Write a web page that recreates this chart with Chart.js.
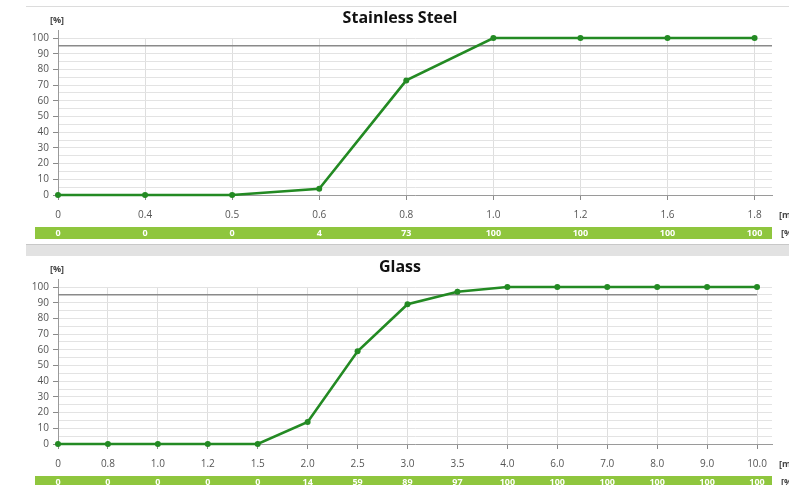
<!DOCTYPE html>
<html>
<head>
<meta charset="utf-8">
<script src="https://cdn.jsdelivr.net/npm/chart.js@4/dist/chart.umd.min.js"></script>
<style>
  html, body { margin: 0; padding: 0; background: #ffffff; }
  body { width: 789px; height: 485px; position: relative; overflow: hidden; }
  .topline { position: absolute; left: 26px; top: 6px; width: 763px; height: 1px; background: #dcdcdc; }
  .sep { position: absolute; left: 26px; top: 244px; width: 763px; height: 12px; background: #e2e2e2; border-top: 1px solid #c8c8c8; box-sizing: border-box; }
  canvas { position: absolute; left: 0; }
  #steel { top: 0; }
  #glass { top: 256px; }
</style>
</head>
<body>
<div class="topline"></div>
<div class="sep"></div>
<canvas id="steel" width="789" height="244"></canvas>
<canvas id="glass" width="789" height="229"></canvas>
<script>
// Stainless steel sieve results
const steelSizes = ['0', '0.4', '0.5', '0.6', '0.8', '1.0', '1.2', '1.6', '1.8'];
const steelPassing = [0, 0, 0, 4, 73, 100, 100, 100, 100];

// Glass sieve results
const glassSizes = ['0', '0.8', '1.0', '1.2', '1.5', '2.0', '2.5', '3.0', '3.5', '4.0', '6.0', '7.0', '8.0', '9.0', '10.0'];
const glassPassing = [0, 0, 0, 0, 0, 14, 59, 89, 97, 100, 100, 100, 100, 100, 100];

// Required passing level
const thresholdLevel = 95;

const yTicks = [0, 10, 20, 30, 40, 50, 60, 70, 80, 90, 100];

const LINE_GREEN = '#238a23';
const BAND_GREEN = '#8fc63e';
const FONT = '"Open Sans", "Noto Sans", sans-serif';

// Title, unit labels, axis stub and the value band under the x axis
const panelDecor = {
  id: 'panelDecor',
  beforeDatasetsDraw(chart) {
    const ctx = chart.ctx;
    const area = chart.chartArea;
    ctx.save();
    ctx.strokeStyle = '#9a9a9a';
    ctx.lineWidth = 1;
    ctx.beginPath();
    ctx.moveTo(area.left + 0.5, area.top - 8);
    ctx.lineTo(area.left + 0.5, area.top);
    ctx.stroke();
    ctx.restore();
  },
  afterDraw(chart, args, opts) {
    const ctx = chart.ctx;
    const xs = chart.scales.x;
    const area = chart.chartArea;
    ctx.save();
    // title
    ctx.fillStyle = '#111';
    ctx.font = 'bold 16px ' + FONT;
    ctx.textAlign = 'center';
    ctx.textBaseline = 'middle';
    ctx.fillText(opts.title, 400, area.top - 20);
    // y unit
    ctx.font = 'bold 9px ' + FONT;
    ctx.fillStyle = '#444';
    ctx.fillText('[%]', 57, area.top - 18);
    // x unit
    ctx.textAlign = 'left';
    ctx.fillText('[mm]', 779, area.bottom + 20);
    // value band
    const bandTop = area.bottom + 32;
    ctx.fillStyle = BAND_GREEN;
    ctx.fillRect(35, bandTop, area.right - 35, 12);
    ctx.fillStyle = '#444';
    ctx.fillText('[%]', 781, bandTop + 6);
    ctx.fillStyle = '#ffffff';
    ctx.font = 'bold 9px ' + FONT;
    ctx.textAlign = 'center';
    opts.values.forEach((v, i) => {
      ctx.fillText(String(v), xs.getPixelForValue(i), bandTop + 6.5);
    });
    ctx.restore();
  }
};

function makeChart(id, title, sizes, passing, xMax, padTop, xHeight, thresholdEnd) {
  const idx = sizes.map((_, i) => i);
  return new Chart(document.getElementById(id), {
    type: 'line',
    data: {
      datasets: [
        {
          data: passing.map((v, i) => ({ x: i, y: v })),
          borderColor: LINE_GREEN,
          backgroundColor: LINE_GREEN,
          borderWidth: 2.6,
          pointRadius: 3,
          pointBorderWidth: 0,
          tension: 0,
          clip: false,
          order: 1
        },
        {
          data: [{ x: 0, y: thresholdLevel }, { x: thresholdEnd, y: thresholdLevel }],
          borderColor: '#8a8a8a',
          borderWidth: 1.5,
          pointRadius: 0,
          order: 2
        }
      ]
    },
    options: {
      responsive: false,
      devicePixelRatio: 1,
      animation: false,
      events: [],
      layout: { padding: { top: padTop, right: 17, left: 0, bottom: 0 } },
      plugins: {
        legend: { display: false },
        tooltip: { enabled: false },
        title: { display: false },
        panelDecor: { title: title, values: passing }
      },
      scales: {
        x: {
          type: 'linear',
          min: 0,
          max: xMax,
          afterBuildTicks: s => { s.ticks = idx.map(v => ({ value: v })); },
          afterFit: s => { s.height = xHeight; },
          ticks: {
            autoSkip: false,
            maxRotation: 0,
            padding: 9,
            color: '#555',
            font: { family: FONT, size: 10 },
            callback: v => sizes[v]
          },
          grid: {
            color: '#dedede',
            tickColor: '#8a8a8a',
            tickLength: 5,
            drawOnChartArea: true
          },
          border: { color: '#9a9a9a', width: 1 }
        },
        y: {
          min: 0,
          max: 100,
          afterBuildTicks: s => {
            const t = [];
            for (let v = 0; v <= 100; v += 5) t.push({ value: v });
            s.ticks = t;
          },
          afterFit: s => { s.width = 58; },
          ticks: {
            autoSkip: false,
            padding: 4,
            color: '#555',
            font: { family: FONT, size: 10 },
            callback: v => (yTicks.includes(v) ? String(v) : '')
          },
          grid: {
            color: '#e3e3e3',
            tickColor: ctx => (ctx.tick && ctx.tick.value % 10 === 0 ? '#8a8a8a' : 'rgba(0,0,0,0)'),
            tickLength: 5
          },
          border: { color: '#9a9a9a', width: 1 }
        }
      }
    },
    plugins: [panelDecor]
  });
}

makeChart('steel', 'Stainless Steel', steelSizes, steelPassing, 8.2, 38, 49, 8.2);
makeChart('glass', 'Glass', glassSizes, glassPassing, 14.3, 31, 41, 14);
</script>
</body>
</html>
